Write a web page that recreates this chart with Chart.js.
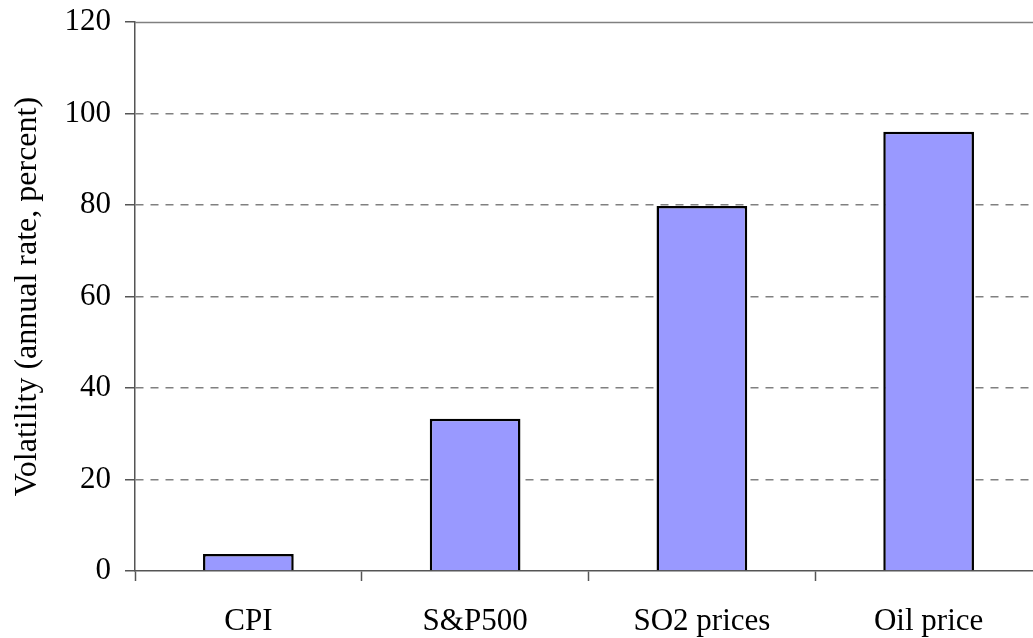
<!DOCTYPE html>
<html>
<head>
<meta charset="utf-8">
<script src="https://cdn.jsdelivr.net/npm/chart.js@4/dist/chart.umd.min.js"></script>
<style>
  html, body { margin: 0; padding: 0; background: #fff; overflow: hidden; }
  #wrap { position: relative; width: 1042px; height: 638px; }
</style>
</head>
<body>
<div id="wrap"><canvas id="c"></canvas></div>
<script>
const categories = ["CPI", "S&P500", "SO2 prices", "Oil price"];
const volatility = [3.7, 33.3, 79.8, 96.0];
const yTicks = [0, 20, 40, 60, 80, 100, 120];
const yTitle = "Volatility (annual rate, percent)";

const FONT = "'Liberation Serif', 'Times New Roman', serif";

const topLinePlugin = {
  id: 'topLine',
  afterDatasetsDraw(chart) {
    const {ctx, chartArea, scales: {y}} = chart;
    const py = Math.round(y.getPixelForValue(y.max)) + 0.5;
    ctx.save();
    ctx.strokeStyle = '#808080';
    ctx.lineWidth = 1.5;
    ctx.beginPath();
    ctx.moveTo(chartArea.left, py);
    ctx.lineTo(chartArea.right, py);
    ctx.stroke();
    ctx.restore();
  }
};

new Chart(document.getElementById('c'), {
  type: 'bar',
  data: {
    labels: categories,
    datasets: [{
      data: volatility,
      backgroundColor: '#9999ff',
      borderColor: '#000000',
      borderWidth: 2.5,
      barPercentage: 0.4,
      categoryPercentage: 1.0
    }]
  },
  options: {
    responsive: true,
    maintainAspectRatio: false,
    animation: false,
    layout: { padding: { top: 22, right: 0, bottom: 0, left: 0 } },
    plugins: { legend: { display: false }, tooltip: { enabled: false } },
    scales: {
      x: {
        afterFit(scale) { scale.height = 67; scale.paddingLeft = 0; scale.paddingRight = 0; },
        grid: {
          display: true,
          offset: true,
          drawOnChartArea: false,
          drawTicks: true,
          tickLength: 10,
          tickColor: '#555555',
          tickWidth: 1.5
        },
        border: { display: true, color: '#555555', width: 1.5 },
        ticks: {
          color: '#000000',
          font: { family: FONT, size: 31 },
          padding: 22,
          maxRotation: 0,
          autoSkip: false
        }
      },
      y: {
        min: 0,
        max: 120,
        afterFit(scale) { scale.width = 135; scale.paddingTop = 0; scale.paddingBottom = 0; },
        afterBuildTicks(scale) { scale.ticks = yTicks.map(v => ({ value: v })); },
        grid: {
          color: (ctx) => (ctx.tick && (ctx.tick.value === 0 || ctx.tick.value === 120)) ? 'rgba(0,0,0,0)' : '#808080',
          lineWidth: 1.5,
          drawTicks: true,
          tickLength: 10,
          tickColor: '#555555',
          tickWidth: 1.5
        },
        border: { display: true, color: '#555555', width: 1.5, dash: [8, 7] },
        ticks: {
          color: '#000000',
          font: { family: FONT, size: 31 },
          padding: 14
        },
        title: {
          display: true,
          text: yTitle,
          color: '#000000',
          font: { family: FONT, size: 32 },
          padding: { top: 8, bottom: 0 }
        }
      }
    }
  },
  plugins: [topLinePlugin]
});
</script>
</body>
</html>
